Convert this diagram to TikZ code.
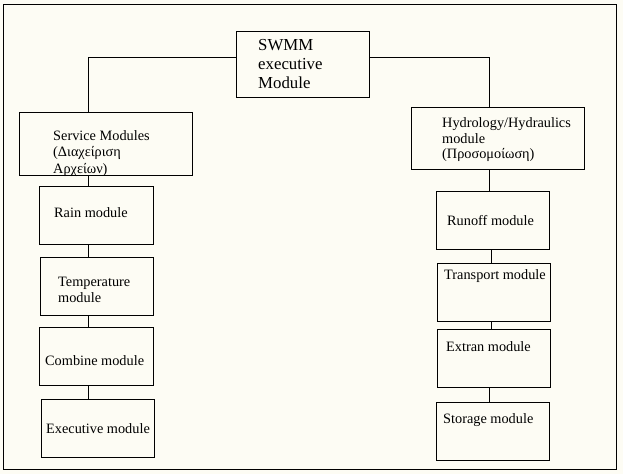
\documentclass[tikz,border=0pt]{standalone}
\usepackage{fontspec}
\setmainfont{Liberation Serif}
\definecolor{cream}{RGB}{253,252,244}
\begin{document}
\begin{tikzpicture}[x=1pt,y=-1pt,
  box/.style={draw=black,line width=0.8pt,inner sep=0pt,anchor=north west},
  txt/.style={anchor=west,inner sep=0pt,align=left,font=\fontsize{14.3}{16.5}\selectfont},
  link/.style={draw=black,line width=0.8pt}]
\fill[cream] (0,0) rectangle (623,474);
\useasboundingbox (0,0) rectangle (623,474);
\draw[line width=0.8pt] (3,4) rectangle (616,469);
% boxes
\node[box,minimum width=133pt,minimum height=66pt] (swmm) at (236,31) {};
\node[box,minimum width=173pt,minimum height=63pt] (svc) at (19,112) {};
\node[box,minimum width=173pt,minimum height=62pt] (hyd) at (411,107) {};
\node[box,minimum width=114pt,minimum height=58pt] (rain) at (39,186) {};
\node[box,minimum width=113pt,minimum height=58pt] (temp) at (40,257) {};
\node[box,minimum width=114pt,minimum height=58pt] (comb) at (39,327) {};
\node[box,minimum width=113pt,minimum height=58pt] (exec) at (41,399) {};
\node[box,minimum width=113pt,minimum height=58pt] (runoff) at (436,191) {};
\node[box,minimum width=113pt,minimum height=58pt] (transp) at (437,263) {};
\node[box,minimum width=113pt,minimum height=58pt] (extran) at (437,329) {};
\node[box,minimum width=113pt,minimum height=58pt] (stor) at (436,402) {};
% texts
\node[txt,font=\fontsize{16.8}{19}\selectfont] (tswmm) at (258,64) {SWMM\\executive\\Module};
\node[txt] (tsvc) at (53,153.5) {Service Modules\\(Διαχείριση\\Αρχείων)};
\node[txt,font=\fontsize{14.3}{15.5}\selectfont] (thyd) at (442,140) {Hydrology/Hydraulics\\module\\(Προσομοίωση)};
\node[txt] (train) at (54,213) {Rain module};
\node[txt,font=\fontsize{14.3}{16}\selectfont] (ttemp) at (58,290) {Temperature\\module};
\node[txt] (tcomb) at (45,361) {Combine module};
\node[txt] (texec) at (46,429) {Executive module};
\node[txt] (trun) at (447,221) {Runoff module};
\node[txt] (ttra) at (444,276) {Transport module};
\node[txt] (text) at (446,347) {Extran module};
\node[txt] (tsto) at (443,420) {Storage module};
% column coordinates
\coordinate (lc) at (88,57);
\coordinate (rc) at (489,57);
\coordinate (rc2) at (491,57);
% connectors
\draw[link] (swmm.west |- lc) -- (lc) -- (svc.north -| lc);
\draw[link] (swmm.east |- rc) -- (rc) -- (hyd.north -| rc);
\draw[link] (svc.south -| lc) -- (rain.north -| lc);
\draw[link] (rain.south -| lc) -- (temp.north -| lc);
\draw[link] (temp.south -| lc) -- (comb.north -| lc);
\draw[link] (comb.south -| lc) -- (exec.north -| lc);
\draw[link] (hyd.south -| rc) -- (runoff.north -| rc);
\draw[link] (runoff.south -| rc2) -- (transp.north -| rc2);
\draw[link] (transp.south -| rc2) -- (extran.north -| rc2);
\draw[link] (extran.south -| rc) -- (stor.north -| rc);
\end{tikzpicture}
\end{document}
